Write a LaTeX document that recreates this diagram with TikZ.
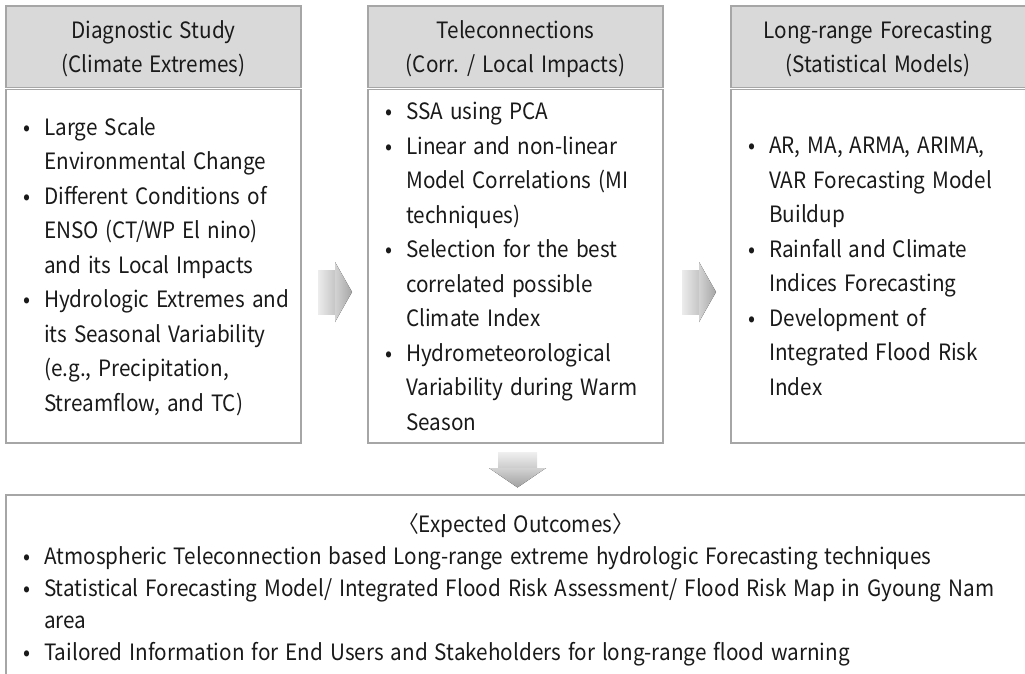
\documentclass[tikz,border=0pt]{standalone}
\usepackage{fontspec}
\setmainfont[FakeStretch=0.92, WordSpace=1.5]{Noto Sans CJK KR}
\definecolor{boxgray}{HTML}{A6A6A6}
\definecolor{headgray}{HTML}{D9D9D9}
\definecolor{ink}{HTML}{1A1A1A}
\newcommand{\bul}{\makebox[21pt][l]{•}}
\newcommand{\ind}{\hspace*{21pt}}
\begin{document}
\begin{tikzpicture}[x=1pt,y=-1pt,
  panel/.style={draw=boxgray, line width=1.4pt, fill=white},
  headpanel/.style={draw=boxgray, line width=1.4pt, fill=headgray},
  txt/.style={font=\fontsize{22.5}{34.5}\selectfont, text=ink, inner sep=0pt},
  outtxt/.style={font=\fontsize{22.5}{32}\selectfont, text=ink, inner sep=0pt}]
\useasboundingbox (0,0) rectangle (1025,674);
\clip (0,0) rectangle (1025,674);

% three stage panels: grey title block above a white body
\draw[headpanel] (6,6) rectangle (301,87.5);
\draw[panel] (6,89.5) rectangle (301,443);
\draw[headpanel] (368,6) rectangle (663,87.5);
\draw[panel] (368,89.5) rectangle (663,443);
\draw[headpanel] (731,6) rectangle (1040,87.5);
\draw[panel] (731,89.5) rectangle (1040,443);

% outcomes panel
\draw[panel] (6,495) rectangle (1040,690);

% titles
\node[txt, align=center] (h1) at (153.5,49) {Diagnostic Study\\(Climate Extremes)};
\node[txt, align=center] (h2) at (515.5,49) {Teleconnections\\(Corr. / Local Impacts)};
\node[txt, align=center] (h3) at (878,49) {Long-range Forecasting\\(Statistical Models)};

% panel bodies
\node[txt, align=left, anchor=west] (b1) at (23,266.5) {%
\bul Large Scale\\
\ind Environmental Change\\
\bul Different Conditions of\\
\ind ENSO (CT/WP El nino)\\
\ind and its Local Impacts\\
\bul Hydrologic Extremes and\\
\ind its Seasonal Variability\\
\ind (e.g., Precipitation,\\
\ind Streamflow, and TC)};

\node[txt, align=left, anchor=west] (b2) at (385,266.5) {%
\bul SSA using PCA\\
\bul Linear and non-linear\\
\ind Model Correlations (MI\\
\ind techniques)\\
\bul Selection for the best\\
\ind correlated possible\\
\ind Climate Index\\
\bul Hydrometeorological\\
\ind Variability during Warm\\
\ind Season};

\node[txt, align=left, anchor=west] (b3) at (748,266.5) {%
\bul AR, MA, ARMA, ARIMA,\\
\ind VAR Forecasting Model\\
\ind Buildup\\
\bul Rainfall and Climate\\
\ind Indices Forecasting\\
\bul Development of\\
\ind Integrated Flood Risk\\
\ind Index};

% outcomes text
\node[txt] (oh) at (515.5,526) {〈Expected Outcomes〉};
\node[outtxt, align=left, anchor=north west] (ob) at (23,546) {%
\bul Atmospheric Teleconnection based Long-range extreme hydrologic Forecasting techniques\\
\bul Statistical Forecasting Model/ Integrated Flood Risk Assessment/ Flood Risk Map in Gyoung Nam\\
\ind area\\
\bul Tailored Information for End Users and Stakeholders for long-range flood warning};

% flow arrows between the panels
\foreach \ax in {318,682}{
  \fill[left color=gray!15, right color=gray!45]
    (\ax,270) -- (\ax+17,270) -- (\ax+17,314) -- (\ax,314) -- cycle;
  \fill[left color=gray!35, right color=gray!70]
    (\ax+17,262) -- (\ax+34,292) -- (\ax+17,322) -- cycle;
}
% arrow down to the outcomes
\fill[top color=gray!12, bottom color=gray!40]
  (498,452) rectangle (537,468);
\fill[top color=gray!35, bottom color=gray!75]
  (489,468) -- (546,468) -- (517.5,487.5) -- cycle;
\end{tikzpicture}
\end{document}
